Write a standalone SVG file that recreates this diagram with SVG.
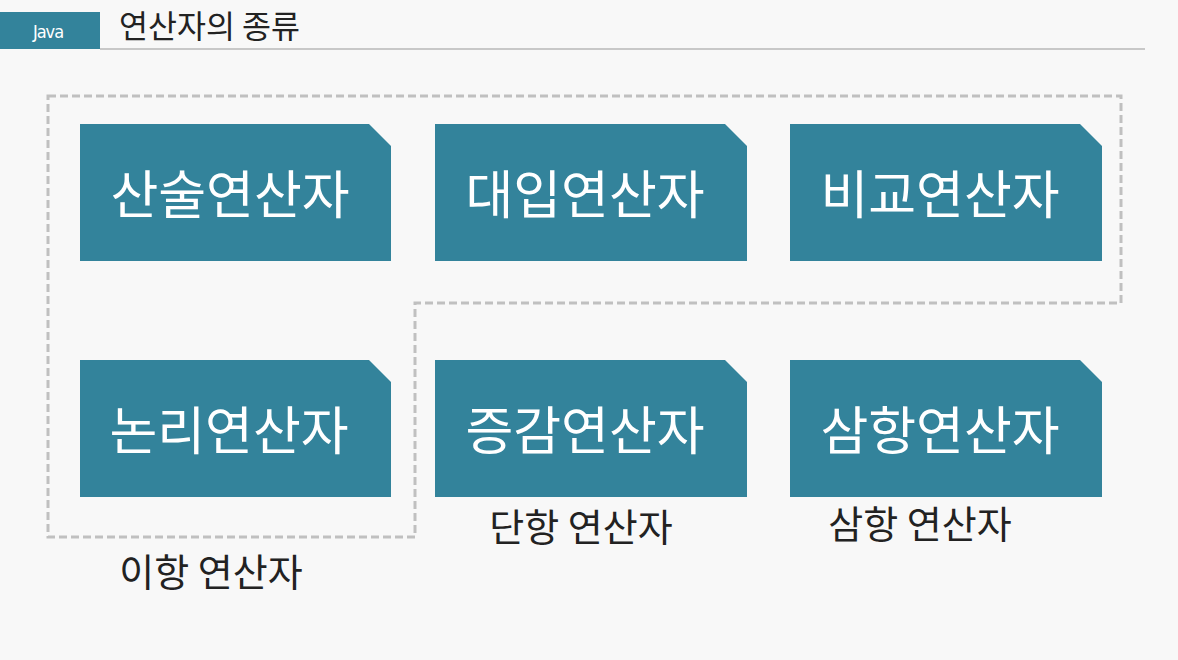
<svg xmlns="http://www.w3.org/2000/svg" width="1178" height="660" viewBox="0 0 1178 660">
<style>
.box{fill:#33839b}
.bt{font-family:"Noto Sans CJK KR","Noto Sans",sans-serif;font-size:52px;fill:#ffffff;text-anchor:middle}
.lbl{font-family:"Noto Sans CJK KR","Noto Sans",sans-serif;font-size:38px;fill:#222222;text-anchor:middle}
</style>
<rect width="1178" height="660" fill="#f8f8f8"/>
<g id="header">
<rect x="0" y="12" width="100" height="37" fill="#33839b"/>
<text x="48" y="38" font-family="'Liberation Sans Narrow','DejaVu Sans Condensed',sans-serif" font-size="18" fill="#ffffff" text-anchor="middle" letter-spacing="-1">Java</text>
<text x="119" y="38" font-family="'Noto Sans CJK KR',sans-serif" font-size="31.5" fill="#222222">연산자의 종류</text>
<line x1="100" y1="49" x2="1145" y2="49" stroke="#c8c8c8" stroke-width="2"/>
</g>
<g id="connectors">
<path d="M48,96 H1121 V303 H415 V537 H48 Z" fill="none" stroke="#c0c0c0" stroke-width="3" stroke-dasharray="8,4"/>
</g>
<g id="n1"><path class="box" d="M80,124 H369 L391,146 V261 H80 Z"/><text class="bt" x="230" y="214">산술연산자</text></g>
<g id="n2"><path class="box" d="M435,124 H725 L747,146 V261 H435 Z"/><text class="bt" x="585" y="214">대입연산자</text></g>
<g id="n3"><path class="box" d="M790,124 H1080 L1102,146 V261 H790 Z"/><text class="bt" x="940" y="214">비교연산자</text></g>
<g id="n4"><path class="box" d="M80,360 H369 L391,382 V497 H80 Z"/><text class="bt" x="229" y="450">논리연산자</text></g>
<g id="n5"><path class="box" d="M435,360 H725 L747,382 V497 H435 Z"/><text class="bt" x="585" y="450">증감연산자</text></g>
<g id="n6"><path class="box" d="M790,360 H1080 L1102,382 V497 H790 Z"/><text class="bt" x="940" y="450">삼항연산자</text></g>
<g id="labels">
<text class="lbl" x="211" y="586">이항 연산자</text>
<text class="lbl" x="581" y="541">단항 연산자</text>
<text class="lbl" x="920" y="538">삼항 연산자</text>
</g>
</svg>
